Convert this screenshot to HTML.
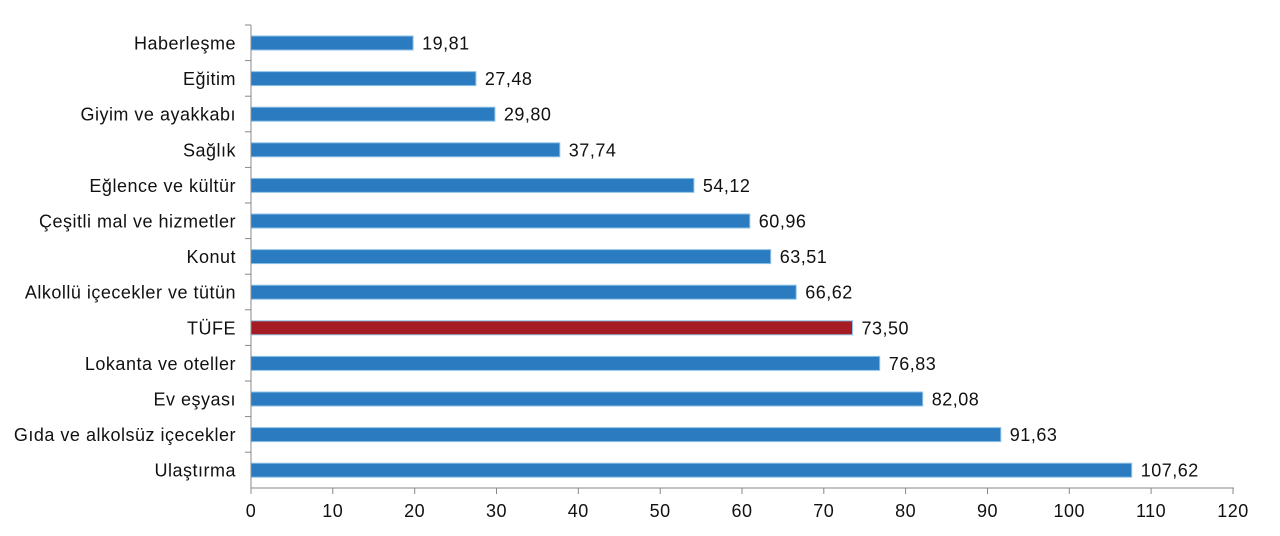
<!DOCTYPE html><html><head><style>body{margin:0;background:#fff}svg{display:block}text{font-family:"Liberation Sans",sans-serif;font-size:18px;letter-spacing:0.5px;fill:#111}</style></head><body>
<svg width="1280" height="536" xmlns="http://www.w3.org/2000/svg">
<g stroke="#8fc3e8" stroke-width="1" fill="#2b7bc0">
<rect x="251" y="36" width="162.1" height="14"/>
<rect x="251" y="71.6" width="224.9" height="14"/>
<rect x="251" y="107.2" width="243.9" height="14"/>
<rect x="251" y="142.8" width="308.8" height="14"/>
<rect x="251" y="178.4" width="442.9" height="14"/>
<rect x="251" y="214" width="498.8" height="14"/>
<rect x="251" y="249.6" width="519.7" height="14"/>
<rect x="251" y="285.2" width="545.2" height="14"/>
<rect x="251" y="320.8" width="601.5" height="14" fill="#a51c24"/>
<rect x="251" y="356.4" width="628.7" height="14"/>
<rect x="251" y="392" width="671.7" height="14"/>
<rect x="251" y="427.6" width="749.8" height="14"/>
<rect x="251" y="463.2" width="880.7" height="14"/>
</g>
<g>
<text x="422.1" y="49.5">19,81</text>
<text x="484.9" y="85.1">27,48</text>
<text x="503.9" y="120.7">29,80</text>
<text x="568.8" y="156.3">37,74</text>
<text x="702.9" y="191.9">54,12</text>
<text x="758.8" y="227.5">60,96</text>
<text x="779.7" y="263.1">63,51</text>
<text x="805.2" y="298.7">66,62</text>
<text x="861.5" y="334.3">73,50</text>
<text x="888.7" y="369.9">76,83</text>
<text x="931.7" y="405.5">82,08</text>
<text x="1009.8" y="441.1">91,63</text>
<text x="1140.7" y="476.7">107,62</text>
</g>
<g text-anchor="end">
<text x="236" y="49.5">Haberleşme</text>
<text x="236" y="85.1">Eğitim</text>
<text x="236" y="120.7">Giyim ve ayakkabı</text>
<text x="236" y="156.3">Sağlık</text>
<text x="236" y="191.9">Eğlence ve kültür</text>
<text x="236" y="227.5">Çeşitli mal ve hizmetler</text>
<text x="236" y="263.1">Konut</text>
<text x="236" y="298.7">Alkollü içecekler ve tütün</text>
<text x="236" y="334.3">TÜFE</text>
<text x="236" y="369.9">Lokanta ve oteller</text>
<text x="236" y="405.5">Ev eşyası</text>
<text x="236" y="441.1">Gıda ve alkolsüz içecekler</text>
<text x="236" y="476.7">Ulaştırma</text>
</g>
<g stroke="#888" stroke-width="1">
<line x1="251" x2="251" y1="25" y2="488"/>
<line x1="251" x2="1234" y1="488" y2="488"/>
<line x1="245" x2="251" y1="25" y2="25"/>
<line x1="245" x2="251" y1="60.6" y2="60.6"/>
<line x1="245" x2="251" y1="96.2" y2="96.2"/>
<line x1="245" x2="251" y1="131.8" y2="131.8"/>
<line x1="245" x2="251" y1="167.4" y2="167.4"/>
<line x1="245" x2="251" y1="203" y2="203"/>
<line x1="245" x2="251" y1="238.6" y2="238.6"/>
<line x1="245" x2="251" y1="274.2" y2="274.2"/>
<line x1="245" x2="251" y1="309.8" y2="309.8"/>
<line x1="245" x2="251" y1="345.4" y2="345.4"/>
<line x1="245" x2="251" y1="381" y2="381"/>
<line x1="245" x2="251" y1="416.6" y2="416.6"/>
<line x1="245" x2="251" y1="452.2" y2="452.2"/>
<line x1="251" x2="251" y1="488" y2="494"/>
<line x1="332.8" x2="332.8" y1="488" y2="494"/>
<line x1="414.7" x2="414.7" y1="488" y2="494"/>
<line x1="496.5" x2="496.5" y1="488" y2="494"/>
<line x1="578.3" x2="578.3" y1="488" y2="494"/>
<line x1="660.2" x2="660.2" y1="488" y2="494"/>
<line x1="742" x2="742" y1="488" y2="494"/>
<line x1="823.8" x2="823.8" y1="488" y2="494"/>
<line x1="905.6" x2="905.6" y1="488" y2="494"/>
<line x1="987.5" x2="987.5" y1="488" y2="494"/>
<line x1="1069.3" x2="1069.3" y1="488" y2="494"/>
<line x1="1151.1" x2="1151.1" y1="488" y2="494"/>
<line x1="1233" x2="1233" y1="488" y2="494"/>
</g>
<g text-anchor="middle">
<text x="251" y="517">0</text>
<text x="332.8" y="517">10</text>
<text x="414.7" y="517">20</text>
<text x="496.5" y="517">30</text>
<text x="578.3" y="517">40</text>
<text x="660.2" y="517">50</text>
<text x="742" y="517">60</text>
<text x="823.8" y="517">70</text>
<text x="905.6" y="517">80</text>
<text x="987.5" y="517">90</text>
<text x="1069.3" y="517">100</text>
<text x="1151.1" y="517">110</text>
<text x="1233" y="517">120</text>
</g>
</svg></body></html>
